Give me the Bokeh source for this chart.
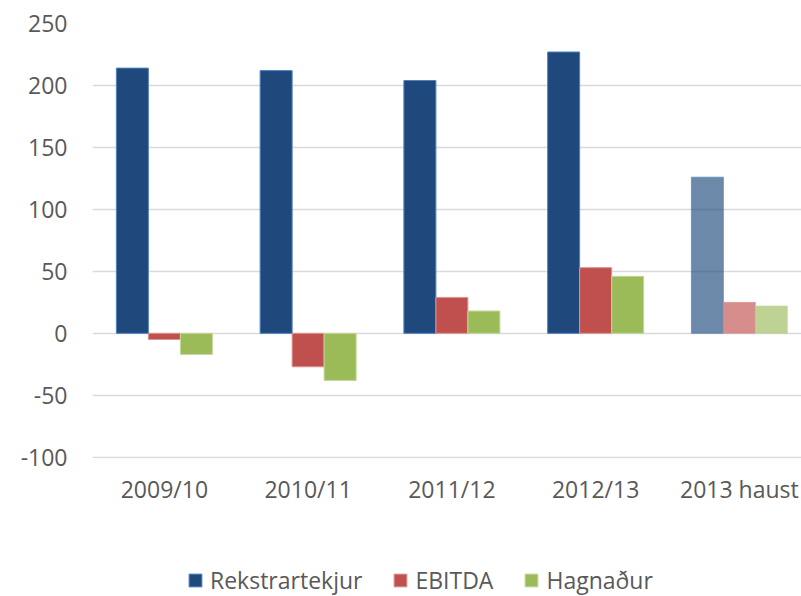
from bokeh.plotting import figure
from bokeh.models import ColumnDataSource, Range1d, Legend, LegendItem, FixedTicker
from bokeh.layouts import column
from bokeh.embed import file_html
from bokeh.resources import INLINE

categories = ["2009/10", "2010/11", "2011/12", "2012/13", "2013 haust"]
rekstrartekjur = [214, 212, 204, 227, 126]
ebitda = [-5, -27, 29, 53, 25]
hagnadur = [-17, -38, 18, 46, 22]
partial_period = [False, False, False, False, True]
y_ticks = [-100, -50, 0, 50, 100, 150, 200, 250]

FONT = "Open Sans"
FS = "23px"
TXT = "#595959"
alphas = [0.65 if p else 1.0 for p in partial_period]
xs = list(range(len(categories)))
bw = 0.2226

p = figure(width=801, height=560, output_backend="svg", toolbar_location=None,
           x_range=Range1d(-0.5, 4.432), y_range=Range1d(-101, 250),
           min_border_left=92, min_border_top=23, min_border_right=0, min_border_bottom=102)
p.outline_line_color = None

series = [
    ("Rekstrartekjur", rekstrartekjur, -bw, "#1F497D", "#4F81BD"),
    ("EBITDA", ebitda, 0.0, "#C0504D", "#D99694"),
    ("Hagnaður", hagnadur, bw, "#9BBB59", "#C3D69B"),
]
for name, vals, off, fc, lc in series:
    src = ColumnDataSource(dict(x=[x + off for x in xs], top=vals, alpha=alphas))
    p.vbar(x="x", top="top", bottom=0, width=bw, source=src,
           fill_color=fc, fill_alpha="alpha", line_color=lc, line_alpha="alpha",
           line_width=1)

p.xgrid.grid_line_color = None
p.ygrid.grid_line_color = "#D9D9D9"
p.ygrid.grid_line_width = 1.5
p.yaxis.ticker = FixedTicker(ticks=y_ticks)
p.yaxis.major_label_overrides = {t: str(t) for t in y_ticks}
p.xaxis.ticker = FixedTicker(ticks=xs)
p.xaxis.major_label_overrides = {i: c for i, c in enumerate(categories)}

for ax in (p.xaxis, p.yaxis):
    ax.axis_line_color = None
    ax.major_tick_line_color = None
    ax.minor_tick_line_color = None
    ax.major_tick_out = 0
    ax.major_tick_in = 0
    ax.major_label_text_font = FONT
    ax.major_label_text_font_size = FS
    ax.major_label_text_color = TXT
p.yaxis.major_label_standoff = 25
p.xaxis.major_label_standoff = 14

# legend strip below the chart (its frame is aligned with the chart's frame)
lg = figure(width=801, height=36, output_backend="svg", toolbar_location=None,
            x_range=Range1d(0, 1), y_range=Range1d(0, 1),
            x_axis_location=None, y_axis_location=None,
            min_border=0)
lg.outline_line_color = None
lg.xgrid.grid_line_color = None
lg.ygrid.grid_line_color = None
items = []
for name, vals, off, fc, lc in series:
    # swatch-only renderer: zero-height bar outside the visible range
    r = lg.vbar(x=[-5], top=[0], bottom=0, width=0.01, fill_color=fc, line_color=lc, line_width=1)
    items.append(LegendItem(label=name, renderers=[r]))
legend = Legend(items=items, orientation="horizontal", location=(95, 0),
                glyph_width=16, glyph_height=16, label_standoff=7, spacing=30,
                padding=0, margin=0, border_line_color=None, background_fill_alpha=0,
                label_text_font=FONT, label_text_font_size=FS,
                label_text_color=TXT)
lg.add_layout(legend, "center")

layout = column(p, lg, spacing=0)
open("out.html", "w").write(file_html(layout, INLINE))
